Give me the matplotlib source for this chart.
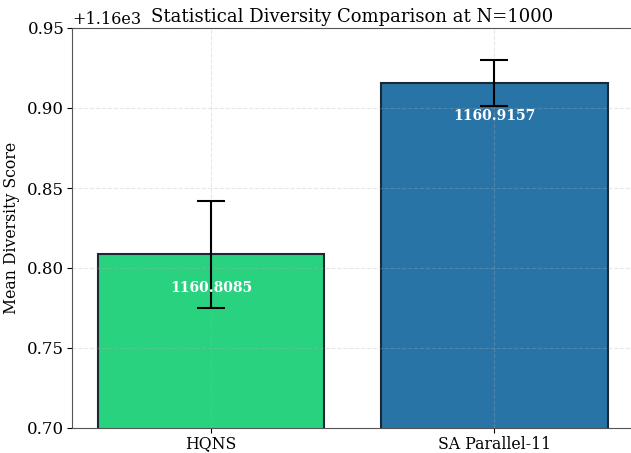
import numpy as np
import matplotlib
matplotlib.use("Agg")
import matplotlib.pyplot as plt

methods = ["HQNS", "SA Parallel-11"]
means = [1160.8085, 1160.9157]
errors = [0.0335, 0.0143]
colors = ["#29d27f", "#2874a6"]

plt.rcParams['font.family'] = 'DejaVu Serif'

fig = plt.figure(figsize=(6.31, 4.53), dpi=100)
ax = fig.add_axes([72 / 631, 25 / 453, 561 / 631, 400 / 453])

x = np.arange(len(methods))
bars = ax.bar(x, means, width=0.8, color=colors, edgecolor='#1c2833', linewidth=1.5,
              yerr=errors, capsize=10, error_kw={'elinewidth': 1.5, 'capthick': 1.5, 'ecolor': 'black'})

for xi, m in zip(x, means):
    ax.text(xi, m - 0.0207, f'{m:.4f}', ha='center', va='center', color='white',
            fontweight='bold', fontsize=10)

ax.set_xticks(x)
ax.set_xticklabels(methods, fontsize=11.3)
ax.tick_params(axis='x', pad=2)
ax.set_ylim(1160.70, 1160.95)
ax.set_xlim(-0.49, 1.49)
ax.tick_params(axis='y', labelsize=12, pad=2)
ax.set_ylabel('Mean Diversity Score', fontsize=11.3, labelpad=5)
ax.set_title('Statistical Diversity Comparison at N=1000', fontsize=13, pad=4)
ax.yaxis.get_offset_text().set_fontsize(11.5)
ax.grid(True, linestyle='--', alpha=0.3)
for s in ax.spines.values():
    s.set_color('#555555')

fig.savefig('out.png', dpi=100)
